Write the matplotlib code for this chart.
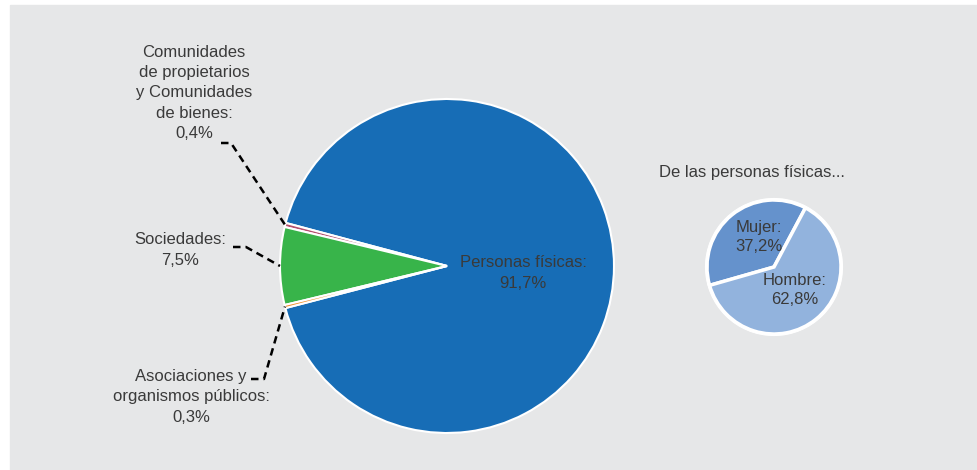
import matplotlib.pyplot as plt
from matplotlib.patches import Rectangle, Circle
import numpy as np

# titularidad (porcentaje sobre el total)
tipos = ["Personas físicas", "Comunidades", "Sociedades", "Asociaciones"]
porcentajes = [91.7, 0.4, 7.5, 0.3]
colores = ["#176db6", "#b5506e", "#38b44a", "#f08a24"]

# reparto por sexo de las personas físicas
sexo = ["Mujer", "Hombre"]
sexo_pct = [37.2, 62.8]
sexo_colores = ["#6592cc", "#92b3dd"]

W, H = 977, 470
txt = "#3a3a3a"
plt.rcParams['font.family'] = ['Liberation Sans', 'DejaVu Sans']

fig = plt.figure(figsize=(W / 100, H / 100), dpi=100)
fig.patches.append(Rectangle((10 / W, 0), 1, (H - 5) / H, transform=fig.transFigure,
                             color="#e6e7e8", zorder=-1))
ax = fig.add_axes([0, 0, 1, 1])
ax.patch.set_visible(False)

# big pie: Sociedades centred on the left side
fr = np.array(porcentajes) / sum(porcentajes) * 360
start = 180 - fr[2] / 2 - fr[1] - fr[0]
c1, r1 = (447, H - 266), 167
wedges, _ = ax.pie(porcentajes, colors=colores, startangle=start, center=c1, radius=r1,
                   wedgeprops=dict(edgecolor="white", linewidth=1.5))

# small pie
c2, r2 = (774, H - 267), 67
ax.pie(sexo_pct, colors=sexo_colores, startangle=62, center=c2, radius=r2,
       wedgeprops=dict(edgecolor="white", linewidth=2.5))
ax.add_patch(Circle(c2, r2 + 1.5, fill=False, edgecolor="white", linewidth=0.8))

ax.set_xlim(0, W)
ax.set_ylim(0, H)
ax.axis("off")

fs = 12
ls = 1.45
ax.text(523, H - 273, "Personas físicas:\n91,7%", ha="center", va="center",
        fontsize=fs, color=txt, linespacing=ls)
ax.text(194, H - 93, "Comunidades\nde propietarios\ny Comunidades\nde bienes:\n0,4%",
        ha="center", va="center", fontsize=fs, color=txt, linespacing=ls)
ax.text(180, H - 250, "Sociedades:\n7,5%", ha="center", va="center",
        fontsize=fs, color=txt, linespacing=ls)
ax.text(191, H - 397, "Asociaciones y\norganismos públicos:\n0,3%", ha="center", va="center",
        fontsize=fs, color=txt, linespacing=ls)

ax.text(752, H - 172, "De las personas físicas...", ha="center", va="center",
        fontsize=fs, color=txt)
ax.text(759, H - 237, "Mujer:\n37,2%", ha="center", va="center",
        fontsize=fs, color=txt, linespacing=1.35)
ax.text(795, H - 290, "Hombre:\n62,8%", ha="center", va="center",
        fontsize=fs, color=txt, linespacing=1.35)

# dashed leader lines to the small slices
starts = {1: (221, H - 143, 231), 2: (233, H - 247, 246), 3: (251, H - 379, 264)}
for i, (x0, y0, x1) in starts.items():
    w = wedges[i]
    a = np.radians((w.theta1 + w.theta2) / 2)
    ex, ey = c1[0] + r1 * np.cos(a), c1[1] + r1 * np.sin(a)
    ax.plot([x0, x1, ex], [y0, y0, ey], color="black", lw=1.8,
            linestyle=(0, (3, 2)), solid_capstyle="butt", dash_capstyle="butt")

fig.savefig("out.png", dpi=100)
